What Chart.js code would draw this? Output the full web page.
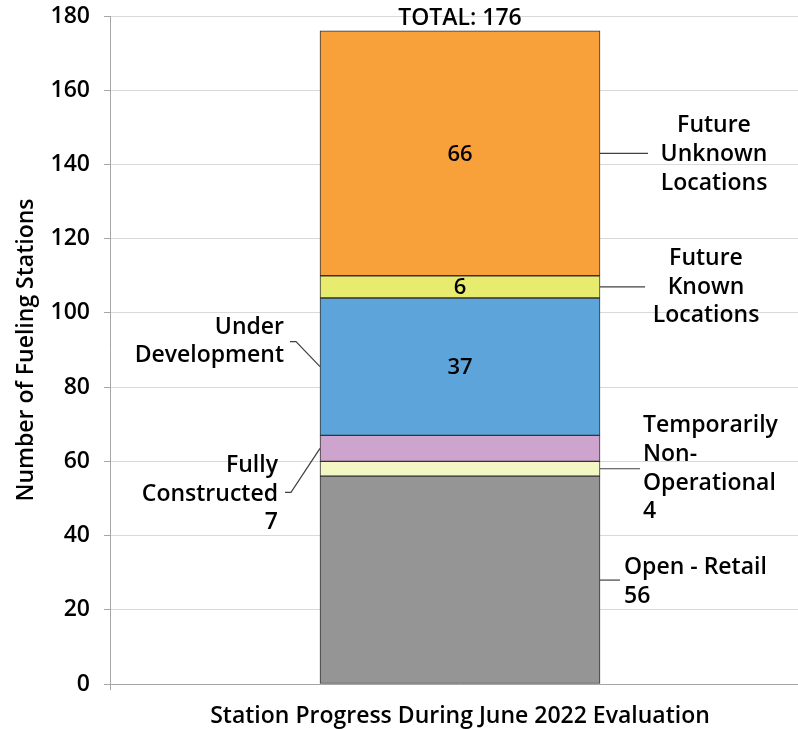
<!DOCTYPE html>
<html lang="en">
<head>
    <meta charset="UTF-8">
    <script src="https://cdn.jsdelivr.net/npm/chart.js"></script>
    <title>Station Progress</title>
    <style>
        body { margin: 0; background: #fff; overflow: hidden; }
    </style>
</head>
<body>

<!-- canvas a bit wider than the window: the plot runs off the right edge -->
<canvas id="stackChart" width="810" height="729"></canvas>

<script>
    // data
    var categories = ['Station Progress During June 2022 Evaluation'];
    var seriesNames = ['Open - Retail', 'Temporarily Non-Operational', 'Fully Constructed',
        'Under Development', 'Future Known Locations', 'Future Unknown Locations'];
    var seriesValues = [56, 4, 7, 37, 6, 66];
    var seriesColors = ['#959595', '#f3f7c4', '#cda4cd', '#5ca4da', '#e8ec6e', '#f8a13b'];
    var yMin = 0, yMax = 180, yStep = 20;

    // callout text next to each segment
    var calloutLines = [
        ['Open - Retail', '56'],
        ['Temporarily', 'Non-', 'Operational', '4'],
        ['Fully', 'Constructed', '7'],
        ['Under', 'Development'],
        ['Future', 'Known', 'Locations'],
        ['Future', 'Unknown', 'Locations']
    ];
    var showInside = [false, false, false, true, true, true];

    var FONT = '"Open Sans", Lato, sans-serif';

    // placement of callouts (style only)
    var calloutStyle = [
        { side: 'right', lineTo: 20, textX: 24, align: 'left', dy: [-13, 16] },
        { side: 'right', lineTo: 40, textX: 43, align: 'left', dy: [-43, -14, 15, 43] },
        { side: 'left', elbow: [29, 44, 35], textX: 42, align: 'right', dy: [17, 46, 74] },
        { side: 'left', elbow: [24, -25, 30], textX: 36, align: 'right', dy: [-39, -11] },
        { side: 'right', lineTo: 45, textX: 106, align: 'center', dy: [-28, 1, 29] },
        { side: 'right', lineTo: 48, textX: 114, align: 'center', dy: [-28, 1, 30] }
    ];

    var labelPlugin = {
        id: 'segmentLabels',
        afterDatasetsDraw: function (chart) {
            var ctx = chart.ctx;
            var yScale = chart.scales.y;
            var total = 0;
            var topY = null, barCenter = 0;

            ctx.save();
            ctx.textBaseline = 'middle';

            chart.data.datasets.forEach(function (ds, i) {
                var bar = chart.getDatasetMeta(i).data[0];
                var left = bar.x - bar.width / 2;
                var right = bar.x + bar.width / 2;
                var mid = yScale.getPixelForValue(total + ds.data[0] / 2);
                total += ds.data[0];
                topY = yScale.getPixelForValue(total);
                barCenter = bar.x;

                // value inside the segment
                if (showInside[i]) {
                    ctx.fillStyle = '#000';
                    ctx.font = '600 22px ' + FONT;
                    ctx.textAlign = 'center';
                    ctx.fillText(String(ds.data[0]), bar.x, mid + 1);
                }

                // leader line
                var st = calloutStyle[i];
                ctx.strokeStyle = '#404040';
                ctx.lineWidth = 1.2;
                ctx.beginPath();
                var tx;
                if (st.side === 'right') {
                    ctx.moveTo(right, mid);
                    ctx.lineTo(right + st.lineTo, mid);
                    tx = right + st.textX;
                } else {
                    ctx.moveTo(left, mid);
                    ctx.lineTo(left - st.elbow[0], mid + st.elbow[1]);
                    ctx.lineTo(left - st.elbow[2], mid + st.elbow[1]);
                    tx = left - st.textX;
                }
                ctx.stroke();

                // callout text
                ctx.fillStyle = '#000';
                ctx.font = '600 23px ' + FONT;
                ctx.textAlign = st.align;
                calloutLines[i].forEach(function (line, k) {
                    ctx.fillText(line, tx, mid + st.dy[k]);
                });
            });

            // total above the bar
            ctx.font = '600 23px ' + FONT;
            ctx.textAlign = 'center';
            ctx.fillStyle = '#000';
            ctx.fillText('TOTAL: ' + total, barCenter, topY - 12);
            ctx.restore();
        }
    };

    var datasets = seriesNames.map(function (name, i) {
        return {
            label: name,
            data: [seriesValues[i]],
            backgroundColor: seriesColors[i],
            borderColor: '#333333',
            borderWidth: 1,
            borderSkipped: false,
            barThickness: 280
        };
    });

    var ctx = document.getElementById('stackChart').getContext('2d');
    var myChart = new Chart(ctx, {
        type: 'bar',
        data: {
            labels: categories,
            datasets: datasets
        },
        plugins: [labelPlugin],
        options: {
            responsive: false,
            animation: false,
            layout: { padding: { top: 16, right: 0, left: 0, bottom: 0 } },
            plugins: {
                legend: { display: false },
                tooltip: { enabled: false }
            },
            scales: {
                x: {
                    stacked: true,
                    grid: { drawOnChartArea: false, tickLength: 6, color: '#a6a6a6' },
                    border: { color: '#a6a6a6' },
                    ticks: {
                        color: '#000',
                        padding: 13,
                        font: { family: FONT, size: 23, weight: '600' }
                    },
                    afterFit: function (scale) { scale.height = 45; }
                },
                y: {
                    stacked: true,
                    min: yMin,
                    max: yMax,
                    ticks: {
                        stepSize: yStep,
                        color: '#000',
                        padding: 14,
                        font: { family: FONT, size: 23, weight: '600' }
                    },
                    grid: { color: '#d9d9d9', tickColor: '#a6a6a6', tickLength: 6 },
                    border: { color: '#a6a6a6' },
                    title: {
                        display: true,
                        text: 'Number of Fueling Stations',
                        color: '#000',
                        padding: { top: 13, bottom: 0 },
                        font: { family: FONT, size: 23, weight: '600' }
                    },
                    afterFit: function (scale) {
                        scale.width = 110;
                        scale.paddingTop = 8;
                        scale.paddingBottom = 8;
                    }
                }
            }
        }
    });
</script>

</body>
</html>
